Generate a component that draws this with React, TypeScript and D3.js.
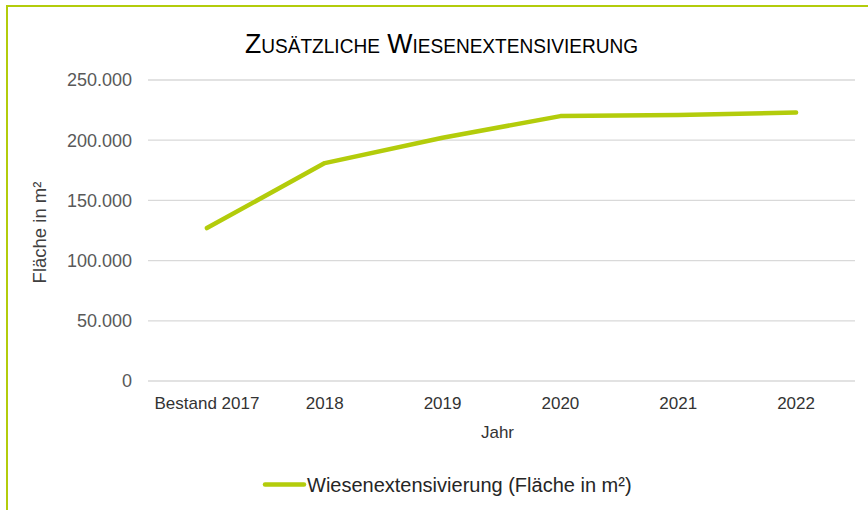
import React from "react";
import * as d3 from "d3";

const categories = ["Bestand 2017", "2018", "2019", "2020", "2021", "2022"];
const values = [127000, 181000, 202000, 220000, 221000, 223000];
const yTicks = [0, 50000, 100000, 150000, 200000, 250000];
const seriesName = "Wiesenextensivierung (Fläche in m²)";
const title = "Zusätzliche Wiesenextensivierung";
const xTitle = "Jahr";
const yTitle = "Fläche in m²";

const W = 868;
const H = 510;
const green = "#B3CC0B";
const font = "'Liberation Sans', Arial, sans-serif";

export default function App() {
  const left = 148, right = 855, top = 80, bottom = 381;
  const x = d3.scaleBand<string>().domain(categories).range([left, right]);
  const y = d3.scaleLinear().domain([0, 250000]).range([bottom, top]);
  const fmt = (v: number) => d3.format(",")(v).replace(/,/g, ".");
  const line = d3
    .line<number>()
    .x((_, i) => (x(categories[i]) as number) + x.bandwidth() / 2)
    .y((d) => y(d));

  return (
    <svg
      width={W}
      height={H}
      style={{ position: "absolute", left: 0, top: 0, background: "#fff" }}
    >
      <rect x={7} y={6} width={W + 20} height={H + 20} fill="#fff" stroke={green} strokeWidth={2} />
      <text
        x={441.5}
        y={53}
        textAnchor="middle"
        fontFamily={font}
        fontSize={28}
        textLength={393}
        lengthAdjust="spacingAndGlyphs"
        style={{ fontVariant: "small-caps" }}
        fill="#000"
      >
        {title}
      </text>
      {yTicks.map((t) => (
        <g key={t}>
          <line x1={left} x2={right} y1={y(t)} y2={y(t)} stroke="#D9D9D9" strokeWidth={1.3} />
          <text
            x={132}
            y={y(t)}
            dy="0.36em"
            textAnchor="end"
            fontFamily={font}
            fontSize={18}
            fill="#595959"
          >
            {fmt(t)}
          </text>
        </g>
      ))}
      {categories.map((c) => (
        <text
          key={c}
          x={(x(c) as number) + x.bandwidth() / 2}
          y={409}
          textAnchor="middle"
          fontFamily={font}
          fontSize={17}
          fill="#333"
        >
          {c}
        </text>
      ))}
      <text x={(left + right) / 2 - 4} y={438} textAnchor="middle" fontFamily={font} fontSize={17} fill="#333">
        {xTitle}
      </text>
      <text
        transform={`translate(46,${(top + bottom) / 2 + 2}) rotate(-90)`}
        textAnchor="middle"
        fontFamily={font}
        fontSize={18.5}
        fill="#404040"
      >
        {yTitle}
      </text>
      <path
        d={line(values) || ""}
        fill="none"
        stroke={green}
        strokeWidth={4.5}
        strokeLinecap="round"
        strokeLinejoin="round"
      />
      <line x1={265} x2={304} y1={484.5} y2={484.5} stroke={green} strokeWidth={4.5} strokeLinecap="round" />
      <text x={307} y={492} fontFamily={font} fontSize={20} fill="#262626">
        {seriesName}
      </text>
    </svg>
  );
}
